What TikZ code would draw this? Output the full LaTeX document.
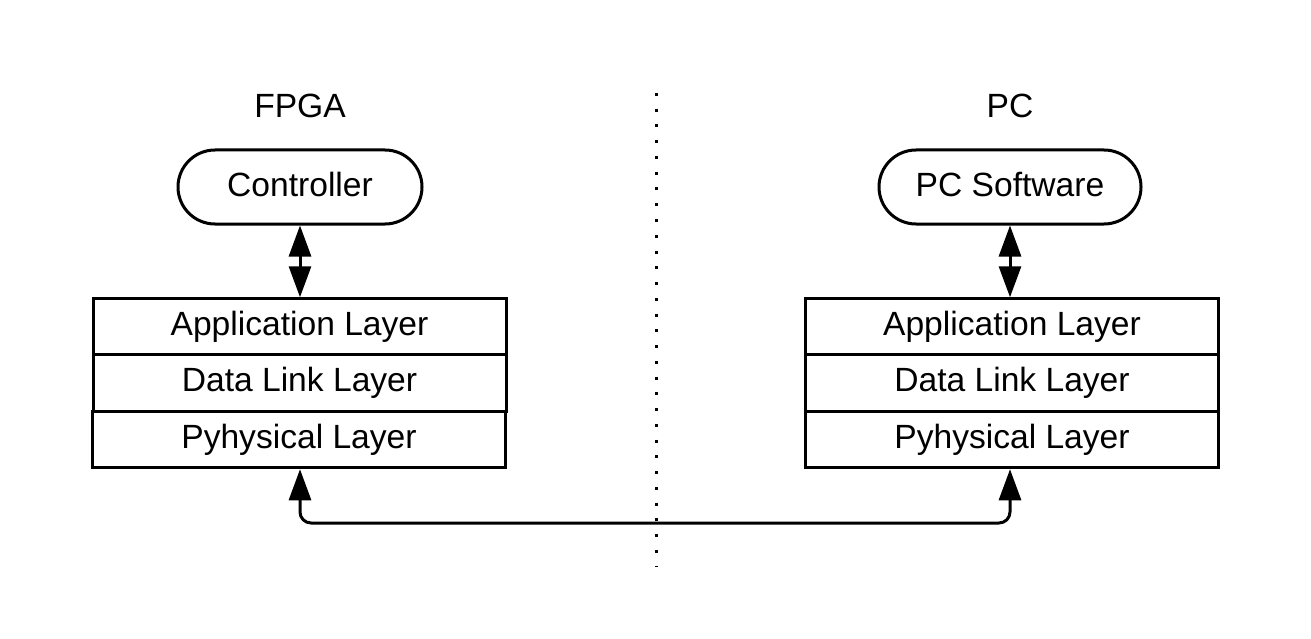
\documentclass[tikz,border=0pt]{standalone}
\usepackage{fontspec}
\setmainfont{Liberation Sans}
\usetikzlibrary{arrows.meta}
\begin{document}
\begin{tikzpicture}[x=1pt,y=1pt,
  txt/.style={font=\fontsize{33.6}{40}\selectfont, inner sep=0pt},
  layer/.style={txt, draw, line width=3pt, minimum width=413pt, minimum height=56.5pt, fill=white},
  capsule/.style={txt, draw, line width=3pt, rounded corners=37pt, minimum height=74pt},
  conn/.style={line width=3pt, {Triangle[width=22pt,length=31pt]}-{Triangle[width=22pt,length=31pt]}}
]
\useasboundingbox (0,0) rectangle (1311,-639);
% labels
\node[txt] (fpga) at (300,-106) {FPGA};
\node[txt] (pc) at (1010,-106) {PC};
% top capsules
\node[capsule, minimum width=244pt] (ctrl) at (300,-187) {\raisebox{5pt}{Controller}};
\node[capsule, minimum width=262pt] (sw) at (1010,-187) {\raisebox{5pt}{PC Software}};
% left stack
\node[layer] (la) at (299.5,-327) {Application Layer};
\node[layer] (ld) at (299.5,-383) {Data Link Layer};
\node[layer] (lp) at (299,-439.5) {Pyhysical Layer};
% right stack
\node[layer] (ra) at (1012,-327) {Application Layer};
\node[layer] (rd) at (1012,-383) {Data Link Layer};
\node[layer] (rp) at (1012,-439.5) {Pyhysical Layer};
% vertical connectors
\draw[conn] (ctrl.south) -- (ctrl.south |- la.north);
\draw[conn] (sw.south) -- (sw.south |- ra.north);
% bottom connector
\coordinate (bl) at (300,-523);
\coordinate (br) at (1010,-523);
\draw[conn, rounded corners=11pt] (bl |- lp.south) -- (bl) -- (br) -- (br |- rp.south);
% divider
\coordinate (dtop) at (656,-93);
\coordinate (dbot) at (656,-566);
\draw[line width=3pt, dash pattern=on 3pt off 12.75pt] (dtop) -- (dbot);
\end{tikzpicture}
\end{document}
